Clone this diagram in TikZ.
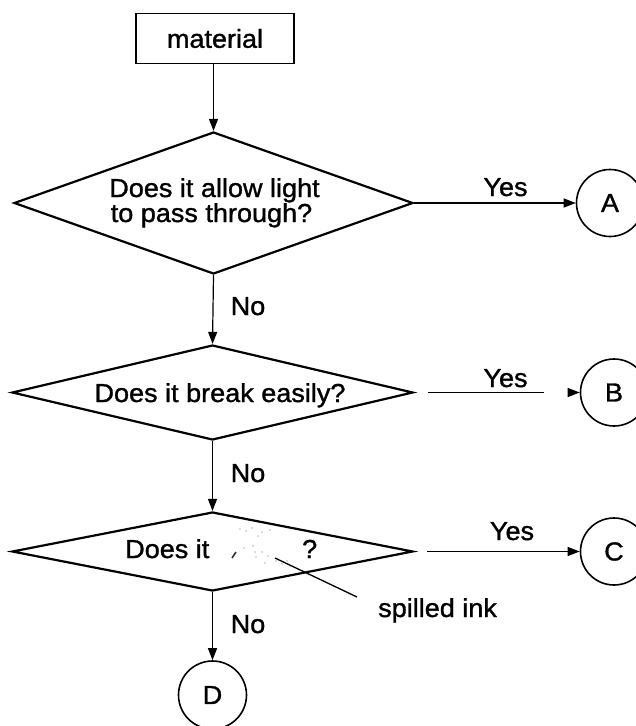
\documentclass[tikz,border=0pt]{standalone}
\usepackage{fontspec}
\setmainfont{Liberation Sans}[FakeStretch=1.04,FakeBold=1.2]
\usetikzlibrary{shapes.geometric,arrows.meta}
\begin{document}
\begin{tikzpicture}[x=1pt,y=-1pt,
  txt/.style={font=\fontsize{26}{26}\selectfont, inner sep=0pt},
  boxnode/.style={draw, line width=1.4pt, rectangle, inner sep=0pt, font=\fontsize{26}{26}\selectfont},
  dia/.style={diamond, draw, line width=2.2pt, inner sep=0pt},
  circ/.style={circle, draw, line width=1.6pt, inner sep=0pt, minimum size=67pt, font=\fontsize{26}{26}\selectfont},
  arr/.style={-{Triangle[length=12pt,width=9pt]}, line width=1.2pt},
  ptr/.style={line width=1.3pt},
  ink/.style={fill=gray!55}
]
\clip (0,0) rectangle (636,726);
\fill[white] (0,0) rectangle (636,726);

% start box
\node[boxnode, minimum width=158pt, minimum height=50pt] (mat) at (215,38.5) {material};

% decisions
\node[dia, minimum width=399pt, minimum height=142pt] (d1) at (213.5,203) {};
\node[dia, minimum width=401pt, minimum height=95pt] (d2) at (212.5,392.5) {};
\node[dia, minimum width=401pt, minimum height=79pt] (d3) at (212.5,551.5) {};

% texts in decisions
\node[txt, anchor=base] (t1a) at (214.5,197) {Does it allow light};
\node[txt, anchor=base] (t1b) at (211.5,222) {to pass through?};
\node[txt, anchor=base] (t2) at (220,402) {Does it break easily?};
\node[txt, anchor=base west] (t3a) at (125,558) {Does it};
\node[txt, anchor=base west] (t3b) at (302,558) {?};

% terminals
\node[circ] (A) at (610,203) {A};
\node[circ] (B) at (614,392.5) {B};
\node[circ] (C) at (614,551.5) {C};
\node[circ, minimum size=68pt] (D) at (212.5,695) {D};

% vertical arrows
\draw[arr] (d1.north |- mat.south) -- (d1.north);
\draw[arr] (d1.south) -- (d2.north);
\draw[arr] (d2.south) -- (d3.north);
\draw[arr] (d3.south) -- (D.north);

% yes arrows
\draw[arr] (d1.east) -- (A.west);
\draw[arr, shorten <=14pt, dash pattern=on 116pt off 60pt] (d2.east) -- (B.west);
\draw[arr, shorten <=13pt] (d3.east) -- (C.west);

% labels
\node[txt, anchor=base] (y1) at (505.5,196) {Yes};
\node[txt, anchor=base] (y2) at (505.5,387) {Yes};
\node[txt, anchor=base] (y3) at (512,540) {Yes};
\node[txt, anchor=base] (n1) at (248,315) {No};
\node[txt, anchor=base] (n2) at (248,482) {No};
\node[txt, anchor=base] (n3) at (248,633) {No};

% spilled ink
\foreach \p in {(240,529),(246,531),(252,528),(262,532),(270,530),(258,536),(253,546),(255,552),(256,557),(262,552),(268,556),(276,561),(282,564),(287,561),(265,563),(244,548),(290,566)}
  \fill[ink] \p circle (0.9pt);
\draw[line width=1.6pt, black!80] (236,552) -- (232,558);
\coordinate (spill) at (275,558);
\coordinate (inkend) at (357,597);
\draw[ptr] (spill) -- (inkend);
\node[txt, anchor=base west] (inklabel) at (378,617) {spilled ink};
\end{tikzpicture}
\end{document}
